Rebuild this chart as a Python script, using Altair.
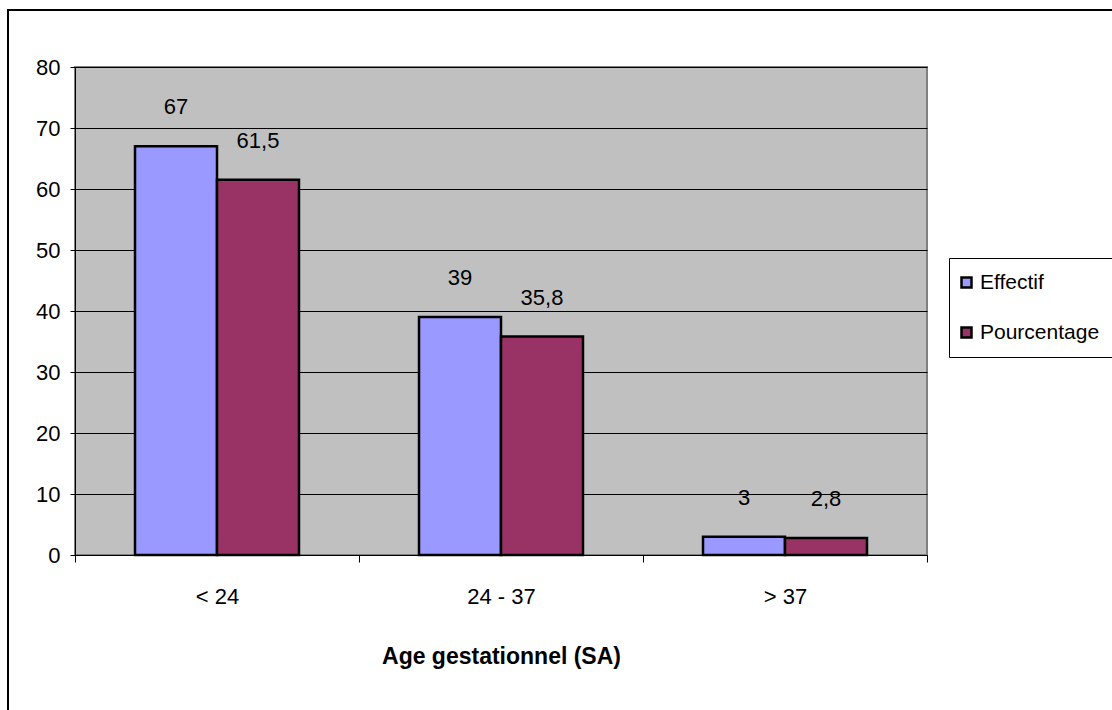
import altair as alt
import pandas as pd

# Gestational age groups and the two series shown for each
categories = ["< 24", "24 - 37", "> 37"]
series = ["Effectif", "Pourcentage"]
effectif = [67, 39, 3]
pourcentage = [61.5, 35.8, 2.8]
colors = ["#9999FF", "#993366"]

rows = []
for cat, e, p in zip(categories, effectif, pourcentage):
    rows.append({"cat": cat, "serie": "Effectif", "val": e})
    rows.append({"cat": cat, "serie": "Pourcentage", "val": p})
df = pd.DataFrame(rows)
df["label"] = df["val"].map(lambda v: (f"{v:g}").replace(".", ","))

FONT = "Liberation Sans"
FS = 22

x_enc = alt.X(
    "cat:N",
    sort=categories,
    scale=alt.Scale(paddingInner=0, paddingOuter=0),
    axis=alt.Axis(
        title="Age gestationnel (SA)",
        labelAngle=0,
        tickBand="extent",
        tickSize=7,
        labelPadding=24,
        titlePadding=38,
        titleFontWeight="bold",
        titleFontSize=23,
        labelFontSize=FS,
        domainColor="black",
        tickColor="black",
        grid=False,
    ),
)
off_enc = alt.XOffset(
    "serie:N", sort=series, scale=alt.Scale(paddingInner=0, paddingOuter=0.732)
)
y_enc = alt.Y(
    "val:Q",
    scale=alt.Scale(domain=[0, 80], nice=False),
    axis=alt.Axis(
        title=None,
        values=list(range(0, 81, 10)),
        tickSize=5,
        labelPadding=10,
        labelFontSize=FS,
        gridColor="black",
        gridOpacity=1,
        gridWidth=1,
        domainColor="black",
        tickColor="black",
    ),
)

bars = alt.Chart(df).mark_bar(stroke="black", strokeWidth=2.5).encode(
    x=x_enc,
    xOffset=off_enc,
    y=y_enc,
    color=alt.Color(
        "serie:N",
        sort=series,
        scale=alt.Scale(domain=series, range=colors),
        legend=alt.Legend(
            title=None,
            orient="none",
            legendX=874,
            legendY=191,
            symbolType="square",
            symbolSize=100,
            symbolStrokeColor="black",
            symbolStrokeWidth=2.5,
            symbolOpacity=1,
            symbolOffset=-7,
            labelFontSize=21,
            labelOffset=3,
            rowPadding=28,
            padding=14,
            strokeColor="black",
            fillColor="white",
        ),
    ),
)

labels = alt.Chart(df).mark_text(
    baseline="bottom", dy=-27, fontSize=FS, font=FONT, color="black"
).encode(x=x_enc, xOffset=off_enc, y=y_enc, text="label:N")

# Frame around the whole figure
frame = alt.Chart(pd.DataFrame({"k": [0]})).mark_rect(
    fill=None, stroke="black", strokeWidth=2, clip=False
).encode(
    x=alt.value(-67), x2=alt.value(1060), y=alt.value(-57), y2=alt.value(660)
)

chart = (
    alt.layer(frame, bars, labels)
    .properties(
        width=852,
        height=488,
        padding={"left": 75, "top": 67, "right": 185, "bottom": 155},
        autosize=alt.AutoSizeParams(type="none"),
        background="white",
    )
    .configure(font=FONT)
    .configure_view(fill="#C0C0C0", stroke="#808080", strokeWidth=2)
    .configure_axis(labelColor="black", titleColor="black", labelFont=FONT, titleFont=FONT)
    .configure_legend(labelFont=FONT, labelColor="black")
)

chart.save("out.html", embed_options={"renderer": "svg", "actions": False})
